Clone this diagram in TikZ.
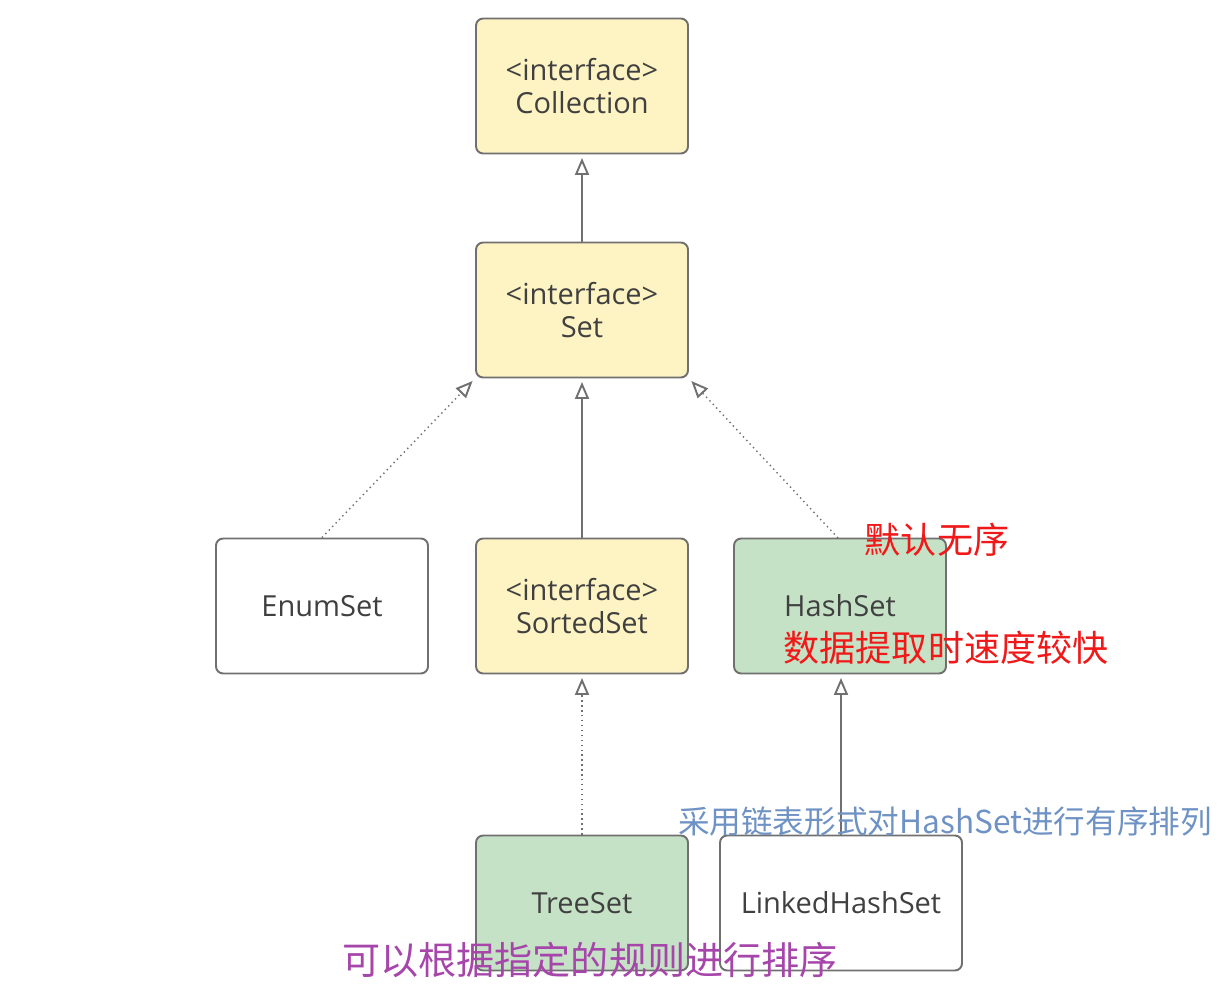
\documentclass[tikz,border=0pt]{standalone}
\usepackage{fontspec}
\setmainfont{Open Sans}
\newfontfamily\cjk{Noto Sans CJK SC}
\usetikzlibrary{arrows.meta}
\definecolor{boxline}{HTML}{707070}
\definecolor{boxtext}{HTML}{404040}
\definecolor{ifyellow}{HTML}{FDF3C3}
\definecolor{clsgreen}{HTML}{C6E2C6}
\definecolor{notered}{HTML}{F01818}
\definecolor{noteblue}{HTML}{6F92C4}
\definecolor{notepurple}{HTML}{A645AA}
\begin{document}
\begin{tikzpicture}[x=0.02cm, y=-0.02cm, line join=round,
	box/.style={draw=boxline, line width=1.1pt, rounded corners=4pt, minimum width=4.24cm, minimum height=2.7cm, align=center, text=boxtext, font=\fontsize{16.5}{19}\selectfont},
	iface/.style={box, fill=ifyellow},
	cls/.style={box, fill=white},
	leaf/.style={box, fill=clsgreen},
	extends/.style={-{Triangle[open,length=3.4mm,width=2.8mm,line width=1.1pt]}, draw=boxline, line width=1.1pt, shorten >=2pt},
	realizes/.style={-{Triangle[open,length=3.4mm,width=2.8mm,line width=1.1pt]}, draw=boxline, line width=0.8pt, dotted, shorten >=2pt},
	note/.style={inner sep=0pt, font=\cjk\fontsize{20.5}{24}\selectfont}]
	\useasboundingbox (0,0) rectangle (1224,999);
	% interfaces
	\node[iface] (coll) at (582,86) {<interface>\\Collection};
	\node[iface] (set) at (582,310) {<interface>\\Set};
	\node[iface] (sorted) at (582,606) {<interface>\\SortedSet};
	% classes
	\node[cls] (enum) at (322,606) {EnumSet};
	\node[leaf] (hash) at (840,606) {HashSet};
	\node[leaf] (tree) at (582,903) {TreeSet};
	\node[cls, minimum width=4.84cm] (linked) at (841,903) {LinkedHashSet};
	% connectors
	\draw[extends] (set) -- (coll);
	\draw[extends] (sorted) -- (set);
	\draw[realizes] (enum.north) -- (set.south west);
	\draw[realizes] (838,538) -- (set.south east);
	\draw[realizes] (tree) -- (sorted);
	\draw[extends] (linked.north) -- (hash.south -| linked.north);
	% notes
	\node[note, text=notered] (n1) at (937,540) {默认无序};
	\node[note, text=notered] (n2) at (946,648) {数据提取时速度较快};
	\node[note, text=noteblue, font=\cjk\fontsize{18}{22}\selectfont] (n3) at (945,821) {采用链表形式对HashSet进行有序排列};
	\node[note, text=notepurple, font=\cjk\fontsize{21.7}{26}\selectfont] (n4) at (590,960) {可以根据指定的规则进行排序};
\end{tikzpicture}
\end{document}
